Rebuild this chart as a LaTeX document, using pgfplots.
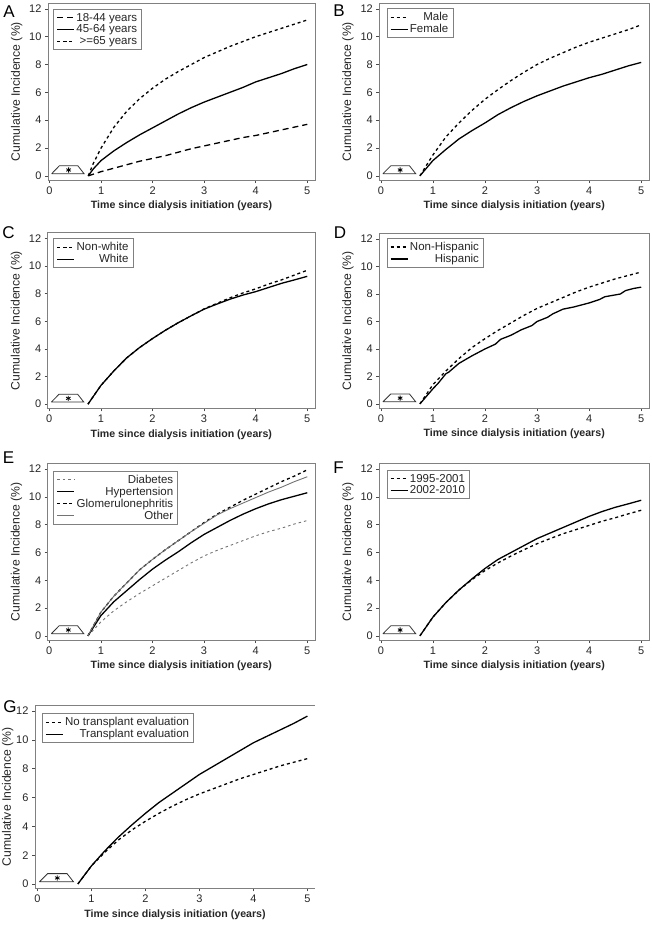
\documentclass[border=0pt]{standalone}
\usepackage{fontspec}
\setmainfont{Liberation Sans}
\usepackage{pgfplots}
\pgfplotsset{compat=1.18}
\newcommand{\legfont}{\fontsize{11.5}{13}\selectfont}
\pgfplotsset{
  panel/.style={
    scale only axis,
    xmin=-0.03, xmax=5.15, ymin=-0.3, ymax=12.42,
    xtick={0,1,2,3,4,5}, ytick={0,2,4,6,8,10,12},
    tick align=outside, xtick pos=bottom, ytick pos=left,
    major tick length=3pt,
    tick style={black!70, line width=0.6pt},
    axis line style={black!50, line width=0.8pt},
    ticklabel style={font=\fontsize{11}{12}\selectfont, text=black!85},
    /pgf/number format/assume math mode=true,
    xlabel={Time since dialysis initiation (years)},
    ylabel={Cumulative Incidence (\%)},
    xlabel style={font=\bfseries\fontsize{10.6}{12}\selectfont, text=black!85},
    ylabel style={font=\fontsize{12.2}{13}\selectfont, text=black!85},
    legend style={draw=black!50, line width=0.8pt, font=\legfont, nodes={font=\legfont, inner sep=1.6pt}, anchor=north west, inner xsep=3pt, inner ysep=2pt, row sep=-1pt, text=black!85},
    legend cell align=right,
    legend image post style={line width=1.3pt},
  },
  dotl/.style={black, line width=1.3pt, dash pattern=on 3pt off 3pt},
  soll/.style={black, line width=1.3pt},
  dashl/.style={black, line width=1.3pt, dash pattern=on 6pt off 4pt},
  gdotl/.style={black!55, line width=0.9pt, dash pattern=on 2.5pt off 3pt},
  gsoll/.style={black!55, line width=0.9pt},
  trap/.style={black!80, line width=0.8pt, forget plot},
  star/.style={only marks, mark=asterisk, mark size=2.6pt, black, mark options={line width=0.8pt}, forget plot},
}
\newcommand{\trapez}{%
  \addplot[trap] coordinates {(0.04,0.15) (0.67,0.15) (0.55,0.72) (0.19,0.72) (0.04,0.15)};
  \addplot[star] coordinates {(0.37,0.42)};}
\begin{document}
\begin{tikzpicture}
\useasboundingbox (0pt,0pt) rectangle (651pt,-926pt);
% ---------------- A
\begin{axis}[panel, at={(48pt,-180pt)}, anchor=south west, width=267pt, height=177pt,
  legend style={at={(axis description cs:0.019,0.966)}}]
\addplot[dashl] coordinates {(0.75,0) (1.0,0.3) (1.25,0.55) (1.5,0.8) (1.75,1.05) (2.0,1.25) (2.25,1.45) (2.5,1.7) (2.75,1.95) (3.0,2.15) (3.25,2.35) (3.5,2.55) (3.75,2.75) (4.0,2.9) (4.25,3.1) (4.5,3.3) (4.75,3.5) (5.0,3.7)};
\addlegendentry{18-44 years}
\addplot[soll] coordinates {(0.75,0) (0.85,0.5) (1.0,1.1) (1.25,1.8) (1.5,2.4) (1.75,2.95) (2.0,3.45) (2.25,3.95) (2.5,4.45) (2.75,4.9) (3.0,5.3) (3.25,5.65) (3.5,6.0) (3.75,6.35) (4.0,6.75) (4.25,7.05) (4.5,7.35) (4.75,7.7) (5.0,8.0)};
\addlegendentry{45-64 years}
\addplot[dotl] coordinates {(0.75,0) (0.85,0.9) (1.0,2.0) (1.25,3.5) (1.5,4.65) (1.75,5.55) (2.0,6.3) (2.25,6.95) (2.5,7.5) (2.75,8.0) (3.0,8.5) (3.25,8.9) (3.5,9.3) (3.75,9.65) (4.0,10.0) (4.25,10.3) (4.5,10.6) (4.75,10.9) (5.0,11.2)};
\addlegendentry{>=65 years}
\trapez
\end{axis}
% ---------------- B
\begin{axis}[panel, at={(379.3pt,-180pt)}, anchor=south west, width=269.7pt, height=177pt,
  legend style={at={(axis description cs:0.027,0.97)}}]
\addplot[dotl] coordinates {(0.75,0) (1.0,1.5) (1.25,2.8) (1.5,3.8) (1.75,4.7) (2.0,5.5) (2.25,6.2) (2.5,6.85) (2.75,7.45) (3.0,8.0) (3.25,8.45) (3.5,8.85) (3.75,9.25) (4.0,9.6) (4.25,9.9) (4.5,10.2) (4.75,10.5) (5.0,10.85)};
\addlegendentry{Male}
\addplot[soll] coordinates {(0.75,0) (1.0,1.1) (1.25,1.9) (1.5,2.65) (1.75,3.25) (2.0,3.8) (2.25,4.4) (2.5,4.9) (2.75,5.35) (3.0,5.75) (3.25,6.1) (3.5,6.45) (3.75,6.75) (4.0,7.05) (4.25,7.3) (4.5,7.6) (4.75,7.9) (5.0,8.15)};
\addlegendentry{Female}
\trapez
\end{axis}
% ---------------- C
\begin{axis}[panel, at={(47.7pt,-408.3pt)}, anchor=south west, width=267.3pt, height=175.6pt,
  legend style={at={(axis description cs:0.021,0.968)}}]
\addplot[dotl] coordinates {(0.75,0) (1.0,1.35) (1.25,2.4) (1.5,3.35) (1.75,4.1) (2.0,4.75) (2.25,5.35) (2.5,5.9) (2.75,6.4) (3.0,6.9) (3.25,7.3) (3.5,7.7) (3.75,8.05) (4.0,8.35) (4.25,8.7) (4.5,9.0) (4.75,9.35) (5.0,9.7)};
\addlegendentry{Non-white}
\addplot[soll] coordinates {(0.75,0) (1.0,1.35) (1.25,2.4) (1.5,3.35) (1.75,4.1) (2.0,4.75) (2.25,5.35) (2.5,5.9) (2.75,6.4) (3.0,6.88) (3.25,7.25) (3.5,7.6) (3.75,7.9) (4.0,8.15) (4.25,8.45) (4.5,8.75) (4.75,9.0) (5.0,9.26)};
\addlegendentry{White}
\trapez
\end{axis}
% ---------------- D
\begin{axis}[panel, at={(379.3pt,-408pt)}, anchor=south west, width=269.7pt, height=174.7pt,
  legend style={at={(axis description cs:0.027,0.973)}}]
\addplot[dotl] coordinates {(0.75,0) (1.0,1.4) (1.25,2.4) (1.5,3.3) (1.75,4.1) (2.0,4.75) (2.25,5.35) (2.5,5.9) (2.75,6.45) (3.0,6.95) (3.25,7.35) (3.5,7.75) (3.75,8.15) (4.0,8.5) (4.25,8.8) (4.5,9.1) (4.75,9.35) (5.0,9.6)};
\addlegendentry{Non-Hispanic}
\addplot[soll] coordinates {(0.75,0) (1.0,1.1) (1.1,1.5) (1.25,2.2) (1.3,2.3) (1.5,2.95) (1.75,3.5) (2.0,4.0) (2.2,4.35) (2.3,4.7) (2.5,5.0) (2.7,5.4) (2.9,5.7) (3.0,6.0) (3.2,6.3) (3.3,6.55) (3.5,6.9) (3.7,7.05) (4.0,7.35) (4.2,7.6) (4.3,7.8) (4.6,8.0) (4.7,8.25) (4.85,8.4) (5.0,8.5)};
\addlegendentry{Hispanic}
\trapez
\end{axis}
% ---------------- E
\begin{axis}[panel, at={(47.7pt,-640pt)}, anchor=south west, width=267.3pt, height=176.7pt,
  legend style={at={(axis description cs:0.021,0.958)}}]
\addplot[gdotl] coordinates {(0.75,0) (1.0,1.0) (1.25,1.8) (1.5,2.45) (1.75,3.05) (2.0,3.6) (2.25,4.15) (2.5,4.7) (2.75,5.25) (3.0,5.75) (3.25,6.15) (3.5,6.5) (3.75,6.85) (4.0,7.2) (4.25,7.5) (4.5,7.75) (4.75,8.05) (5.0,8.3)};
\addlegendentry{Diabetes}
\addplot[soll] coordinates {(0.75,0) (1.0,1.45) (1.25,2.45) (1.5,3.25) (1.75,4.05) (2.0,4.8) (2.25,5.45) (2.5,6.05) (2.75,6.7) (3.0,7.3) (3.25,7.8) (3.5,8.3) (3.75,8.75) (4.0,9.15) (4.25,9.5) (4.5,9.8) (4.75,10.05) (5.0,10.3)};
\addlegendentry{Hypertension}
\addplot[dotl] coordinates {(0.75,0) (1.0,1.7) (1.25,2.85) (1.5,3.8) (1.75,4.75) (2.0,5.5) (2.25,6.2) (2.5,6.85) (2.75,7.5) (3.0,8.15) (3.25,8.75) (3.5,9.25) (3.75,9.75) (4.0,10.2) (4.25,10.65) (4.5,11.1) (4.75,11.5) (5.0,11.95)};
\addlegendentry{Glomerulonephritis}
\addplot[gsoll] coordinates {(0.75,0) (1.0,1.7) (1.25,2.85) (1.5,3.8) (1.75,4.75) (2.0,5.5) (2.25,6.2) (2.5,6.85) (2.75,7.5) (3.0,8.1) (3.25,8.7) (3.5,9.15) (3.75,9.55) (4.0,9.95) (4.25,10.35) (4.5,10.7) (4.75,11.1) (5.0,11.45)};
\addlegendentry{Other}
\trapez
\end{axis}
% ---------------- F
\begin{axis}[panel, at={(379.3pt,-640pt)}, anchor=south west, width=269.7pt, height=176.7pt,
  legend style={at={(axis description cs:0.027,0.962)}}]
\addplot[dotl] coordinates {(0.75,0) (1.0,1.35) (1.25,2.4) (1.5,3.3) (1.75,4.05) (2.0,4.7) (2.25,5.25) (2.5,5.75) (2.75,6.2) (3.0,6.63) (3.25,7.0) (3.5,7.35) (3.75,7.65) (4.0,7.95) (4.25,8.25) (4.5,8.5) (4.75,8.78) (5.0,9.04)};
\addlegendentry{1995-2001}
\addplot[soll] coordinates {(0.75,0) (1.0,1.35) (1.25,2.4) (1.5,3.3) (1.75,4.1) (2.0,4.85) (2.25,5.5) (2.5,6.0) (2.75,6.5) (3.0,7.0) (3.25,7.4) (3.5,7.8) (3.75,8.2) (4.0,8.6) (4.25,8.95) (4.5,9.25) (4.75,9.5) (5.0,9.76)};
\addlegendentry{2002-2010}
\trapez
\end{axis}
% ---------------- G
\begin{axis}[panel, at={(35pt,-888.3pt)}, anchor=south west, width=280pt, height=183.3pt,
  xmin=-0.043, xmax=5.14,
  axis x line*=bottom, axis y line*=left,
  ylabel shift=-4pt,
  legend style={at={(axis description cs:0.024,0.955)}}]
\addplot[dotl] coordinates {(0.75,0) (1.0,1.25) (1.25,2.2) (1.5,3.05) (1.75,3.75) (2.0,4.35) (2.25,4.9) (2.5,5.4) (2.75,5.85) (3.0,6.25) (3.25,6.6) (3.5,6.95) (3.75,7.3) (4.0,7.6) (4.25,7.9) (4.5,8.2) (4.75,8.45) (5.0,8.7)};
\addlegendentry{No transplant evaluation}
\addplot[soll] coordinates {(0.75,0) (1.0,1.25) (1.25,2.3) (1.5,3.25) (1.75,4.1) (2.0,4.9) (2.25,5.65) (2.5,6.3) (2.75,6.95) (3.0,7.6) (3.25,8.15) (3.5,8.7) (3.75,9.25) (4.0,9.8) (4.25,10.25) (4.5,10.7) (4.75,11.15) (5.0,11.65)};
\addlegendentry{Transplant evaluation}
\trapez
\draw[black!50, line width=0.8pt] (rel axis cs:0,1) -- (rel axis cs:1,1);
\end{axis}
% panel letters
\node[font=\fontsize{17}{17}\selectfont] at (9pt,-12pt) {A};
\node[font=\fontsize{17}{17}\selectfont] at (339pt,-11pt) {B};
\node[font=\fontsize{17}{17}\selectfont] at (8.5pt,-233pt) {C};
\node[font=\fontsize{17}{17}\selectfont] at (340pt,-233pt) {D};
\node[font=\fontsize{17}{17}\selectfont] at (8.5pt,-458pt) {E};
\node[font=\fontsize{17}{17}\selectfont] at (338.5pt,-468pt) {F};
\node[font=\fontsize{17}{17}\selectfont] at (10pt,-707pt) {G};
\end{tikzpicture}
\end{document}
